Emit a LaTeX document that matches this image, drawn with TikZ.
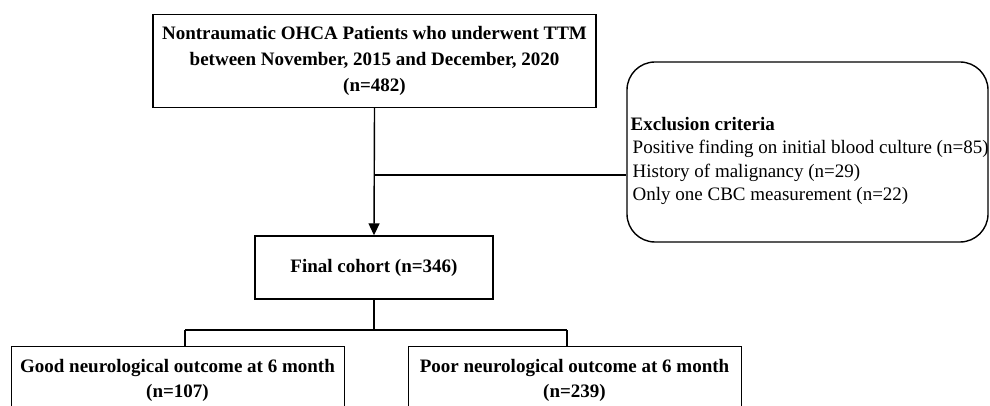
\documentclass[tikz,border=0pt]{standalone}
\usepackage{fontspec}
\setmainfont{Liberation Serif}
\usetikzlibrary{arrows.meta}
\begin{document}
\begin{tikzpicture}[x=1pt,y=-1pt,line width=1.4pt,
  box/.style={draw,line width=1.4pt,inner sep=0pt,align=center,font=\fontsize{19}{26}\selectfont\bfseries},
  conn/.style={line width=1.4pt},
  arr/.style={line width=1.4pt,-{Triangle[length=12pt,width=11pt]}}]
\clip (0,0) rectangle (990,406);
\useasboundingbox (0,0) rectangle (990,406);
\node[box,minimum width=443pt,minimum height=93pt] (top) at (374.5,61)
  {Nontraumatic OHCA Patients who underwent TTM\\between November, 2015 and December, 2020\\(n=482)};
\node[draw,line width=1.4pt,rounded corners=28pt,minimum width=361pt,minimum height=180pt] (excl) at (807.5,152) {};
\node[anchor=west,align=left,inner sep=0pt,font=\fontsize{19}{23.4}\selectfont] (excltxt) at (630,161)
  {\textbf{Exclusion criteria}\\\hspace{2pt}Positive finding on initial blood culture (n=85)\\\hspace{2pt}History of malignancy (n=29)\\\hspace{2pt}Only one CBC measurement (n=22)};
\node[box,minimum width=238pt,minimum height=63pt] (final) at (374,267.5) {Final cohort (n=346)};
\node[box,minimum width=333pt,minimum height=80pt,anchor=north west] (good) at (11,346) {};
\node[box,minimum width=333pt,minimum height=80pt,anchor=north west] (poor) at (408,346) {};
\node[font=\fontsize{19}{25}\selectfont\bfseries,align=center] (goodtxt) at (177.5,380.5) {Good neurological outcome at 6 month\\(n=107)};
\node[font=\fontsize{19}{25}\selectfont\bfseries,align=center] (poortxt) at (574.5,380.5) {Poor neurological outcome at 6 month\\(n=239)};
\coordinate (j) at (374,175);
\draw[arr] (top.south) -- (final.north);
\draw[conn] (j) -- (j -| excl.west);
\coordinate (s) at (374,330);
\coordinate (gl) at (185,330);
\coordinate (pr) at (567,330);
\draw[conn] (final.south) -- (s);
\draw[conn] (gl) -- (pr);
\draw[conn] (gl) -- (gl |- good.north);
\draw[conn] (pr) -- (pr |- poor.north);
\end{tikzpicture}
\end{document}
